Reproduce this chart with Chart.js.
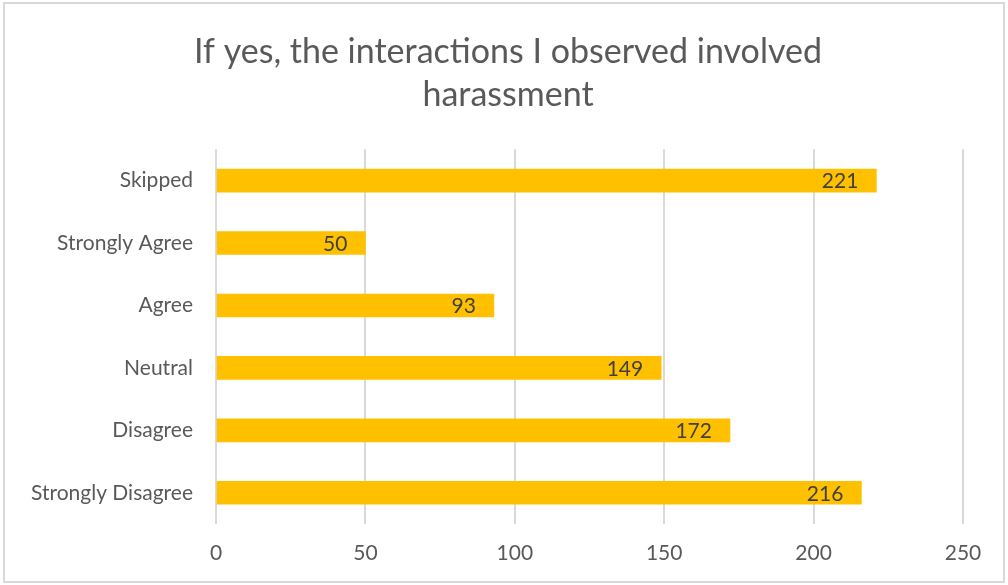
<!DOCTYPE html>
<html>
<head>
<meta charset="utf-8">
<script src="https://cdn.jsdelivr.net/npm/chart.js@4/dist/chart.umd.min.js"></script>
<style>
  html, body { margin: 0; padding: 0; background: #ffffff; }
  #wrap { width: 1008px; height: 585px; position: relative; }
</style>
</head>
<body>
<div id="wrap"><canvas id="c" width="1008" height="585"></canvas></div>
<script>
const titleLines = ["If yes, the interactions I observed involved", "harassment"];
const categories = ["Skipped", "Strongly Agree", "Agree", "Neutral", "Disagree", "Strongly Disagree"];
const values = [221, 50, 93, 149, 172, 216];
const xMin = 0;
const xMax = 250;
const xStep = 50;

const FONT = "Lato, 'Open Sans', sans-serif";

const framePlugin = {
  id: 'frame',
  afterDraw(chart) {
    const ctx = chart.ctx;
    ctx.save();
    ctx.strokeStyle = '#d9d9d9';
    ctx.lineWidth = 2;
    ctx.strokeRect(4, 3, 1000, 579);
    ctx.restore();
  }
};

const labelPlugin = {
  id: 'barLabels',
  afterDatasetsDraw(chart) {
    const ctx = chart.ctx;
    const meta = chart.getDatasetMeta(0);
    ctx.save();
    ctx.font = "21px " + FONT;
    ctx.fillStyle = '#404040';
    ctx.textAlign = 'right';
    ctx.textBaseline = 'middle';
    meta.data.forEach((bar, i) => {
      ctx.fillText(String(chart.data.datasets[0].data[i]), bar.x - 18, bar.y + 1);
    });
    ctx.restore();
  }
};

new Chart(document.getElementById('c'), {
  type: 'bar',
  data: {
    labels: categories,
    datasets: [{
      data: values,
      backgroundColor: '#FFC000',
      borderWidth: 0,
      barThickness: 23
    }]
  },
  options: {
    indexAxis: 'y',
    responsive: false,
    animation: false,
    layout: { padding: { left: 8, right: 0, top: 0, bottom: 0 } },
    plugins: {
      legend: { display: false },
      tooltip: { enabled: false },
      title: {
        display: true,
        text: titleLines,
        color: '#595959',
        font: { family: FONT, size: 34, weight: 'normal', lineHeight: 1.27 },
        padding: { top: 30, bottom: 33 }
      }
    },
    scales: {
      x: {
        min: xMin,
        max: xMax,
        ticks: {
          stepSize: xStep,
          color: '#595959',
          font: { family: FONT, size: 21 },
          padding: 17
        },
        grid: { color: '#d9d9d9', lineWidth: 2, drawTicks: false },
        border: { display: false },
        afterFit(scale) { scale.height = 61; }
      },
      y: {
        ticks: {
          color: '#595959',
          font: { family: FONT, size: 21 },
          padding: 23
        },
        grid: { display: false, drawTicks: false },
        border: { display: false },
        afterFit(scale) { scale.width = 208; }
      },
      yRight: {
        type: 'category',
        position: 'right',
        labels: categories,
        ticks: { display: false },
        grid: { display: false, drawTicks: false },
        border: { display: false },
        afterFit(scale) { scale.width = 45; }
      }
    }
  },
  plugins: [framePlugin, labelPlugin]
});
</script>
</body>
</html>
